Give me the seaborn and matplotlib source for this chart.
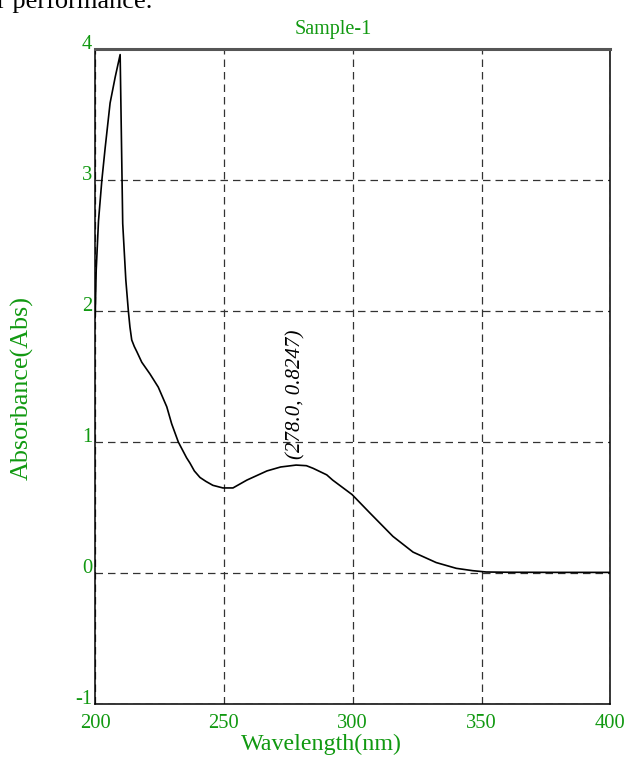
# UV-Vis absorbance spectrum - Sample-1

import numpy as np
import pandas as pd
import matplotlib
matplotlib.use("Agg")
import matplotlib.pyplot as plt
import seaborn as sns


# 1. DATA

wavelength = [200, 200.4, 201.3, 202.6, 203.9, 205.8, 207.8, 209.7, 210.7, 211.9,
              212.9, 213.5, 214.2, 215.2, 216.2, 218.1, 221.3, 224.5, 227.8, 229.7,
              232.3, 235.5, 236.8, 238.5, 240.7, 243.0, 245.7, 249.6, 253.5, 258.9,
              266.7, 272.0, 278.0, 282.0, 284.6, 289.9, 292.2, 299.7, 306.6, 315.6,
              323.4, 332.4, 340.2, 346.6, 351.8, 360.0, 380.0, 400.0]
absorbance = [1.95, 2.31, 2.69, 3.00, 3.25, 3.59, 3.79, 3.96, 2.67, 2.24,
              2.00, 1.88, 1.78, 1.73, 1.69, 1.61, 1.52, 1.42, 1.27, 1.14,
              1.00, 0.88, 0.84, 0.78, 0.73, 0.70, 0.67, 0.65, 0.65, 0.71,
              0.78, 0.81, 0.8247, 0.82, 0.80, 0.75, 0.71, 0.60, 0.46, 0.28,
              0.16, 0.08, 0.036, 0.018, 0.008, 0.006, 0.005, 0.005]

x_ticks = [200, 250, 300, 350, 400]
y_ticks = [-1, 0, 1, 2, 3, 4]
peak_x = 278.0
peak_y = 0.8247

df = pd.DataFrame({"Wavelength": wavelength, "Absorbance": absorbance})


# 2. STYLE

sns.set_style("white")
plt.rcParams["font.family"] = ["Liberation Serif", "DejaVu Serif"]
plt.rcParams["axes.unicode_minus"] = False
GREEN = "#119911"


# 3. PLOT

fig = plt.figure(figsize=(6.26, 7.59), dpi=100)
ax = fig.add_axes([0.152, 0.0725, 0.823, 0.8625])

sns.lineplot(data=df, x="Wavelength", y="Absorbance", estimator=None,
             color="black", linewidth=1.2, ax=ax)

ax.set_xlim(200, 400)
ax.set_ylim(-1, 4)
ax.set_xticks(x_ticks)
ax.set_yticks(y_ticks)
ax.tick_params(axis="both", length=0, labelsize=14.8, colors=GREEN)
ax.tick_params(axis="x", pad=7)
ax.tick_params(axis="y", pad=2)
for lab in ax.get_yticklabels():
    lab.set_verticalalignment("baseline")

ax.grid(True, linestyle=(0, (6, 4)), color="#333333", linewidth=0.9)

for side in ["left", "right", "bottom"]:
    ax.spines[side].set_color("black")
    ax.spines[side].set_linewidth(1.1)
ax.spines["top"].set_color("#555555")
ax.spines["top"].set_linewidth(2.2)

ax.set_xlabel("Wavelength(nm)", fontsize=17.3, color=GREEN)
ax.set_ylabel("Absorbance(Abs)", fontsize=18.8, color=GREEN)
ax.xaxis.set_label_coords(0.439, -0.046)
ax.xaxis.label.set_verticalalignment("top")
ax.yaxis.set_label_coords(-0.12, 0.482)

ax.set_title("Sample-1", fontsize=14.5, color=GREEN, x=0.462, pad=11)

ax.text(peak_x, peak_y + 0.05, f"({peak_x:.1f}, {peak_y:.4f})",
        rotation=90, ha="center", va="bottom", fontsize=15,
        style="italic", color="black")

# leftover text from the page the chart was cut from
fig.text(-0.004, 1 - 8 / 759, "r performance.", fontsize=19,
         va="baseline", ha="left", color="black")

fig.savefig("out.png", dpi=100)
